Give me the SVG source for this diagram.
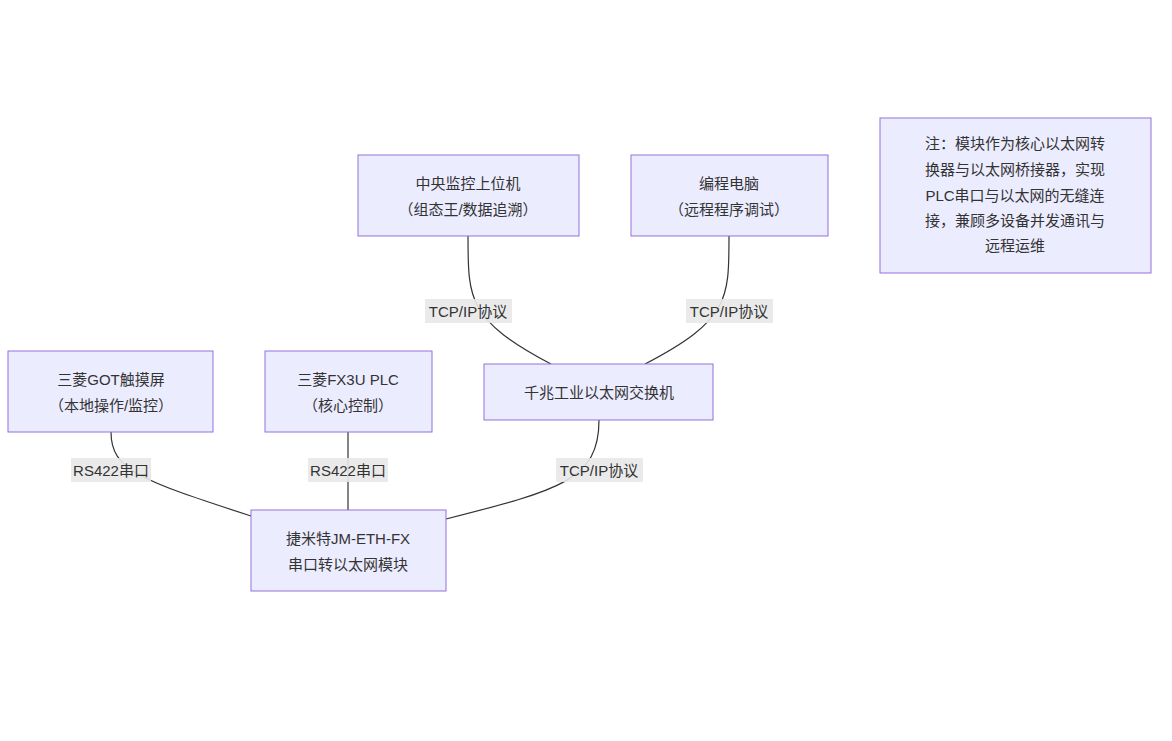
<svg xmlns="http://www.w3.org/2000/svg" width="1172" height="741" viewBox="0 0 1172 741">
<style>
.n{fill:#ECECFF;stroke:#9370DB;stroke-width:1}
.t{font-family:"Liberation Sans","Noto Sans CJK SC",sans-serif;font-size:15px;fill:#333;text-anchor:middle;dominant-baseline:central}
.e{fill:none;stroke:#333;stroke-width:1.2}
.lb{fill:#e8e8e8;opacity:0.9}
</style>
<rect width="1172" height="741" fill="#fff"/>
<g id="edges">
<path class="e" d="M468,236 C468,300 468,320 551,364"/>
<path class="e" d="M729,236 C729,300 729,320 645,364"/>
<path class="e" d="M599,420 C599,480 560,490 446,519"/>
<path class="e" d="M111,432 C111,470 140,480 251,516"/>
<path class="e" d="M348,432 L348,510"/>
<rect class="lb" x="425" y="299" width="87" height="24"/><text class="t" x="468" y="311">TCP/IP协议</text>
<rect class="lb" x="686" y="299" width="87" height="24"/><text class="t" x="729" y="311">TCP/IP协议</text>
<rect class="lb" x="556" y="458" width="87" height="24"/><text class="t" x="599" y="470">TCP/IP协议</text>
<rect class="lb" x="71" y="458" width="80" height="24"/><text class="t" x="111" y="470">RS422串口</text>
<rect class="lb" x="308" y="458" width="80" height="24"/><text class="t" x="348" y="470">RS422串口</text>
</g>
<g id="host"><rect class="n" x="358" y="155" width="221" height="81"/><text class="t" x="468" y="183">中央监控上位机</text><text class="t" x="468" y="209">（组态王/数据追溯）</text></g>
<g id="pc"><rect class="n" x="631" y="155" width="197" height="81"/><text class="t" x="729" y="183">编程电脑</text><text class="t" x="729" y="209">（远程程序调试）</text></g>
<g id="switch"><rect class="n" x="484" y="364" width="229" height="56"/><text class="t" x="599" y="392">千兆工业以太网交换机</text></g>
<g id="got"><rect class="n" x="8" y="351" width="205" height="81"/><text class="t" x="111" y="379">三菱GOT触摸屏</text><text class="t" x="111" y="405">（本地操作/监控）</text></g>
<g id="plc"><rect class="n" x="265" y="351" width="167" height="81"/><text class="t" x="348" y="379">三菱FX3U PLC</text><text class="t" x="348" y="405">（核心控制）</text></g>
<g id="module"><rect class="n" x="251" y="510" width="195" height="81"/><text class="t" x="348" y="538">捷米特JM-ETH-FX</text><text class="t" x="348" y="564">串口转以太网模块</text></g>
<g id="note"><rect class="n" x="880" y="118" width="271" height="155"/>
<text class="t" x="1015" y="143">注：模块作为核心以太网转</text>
<text class="t" x="1015" y="169">换器与以太网桥接器，实现</text>
<text class="t" x="1015" y="195">PLC串口与以太网的无缝连</text>
<text class="t" x="1015" y="220">接，兼顾多设备并发通讯与</text>
<text class="t" x="1015" y="245">远程运维</text></g>
</svg>
